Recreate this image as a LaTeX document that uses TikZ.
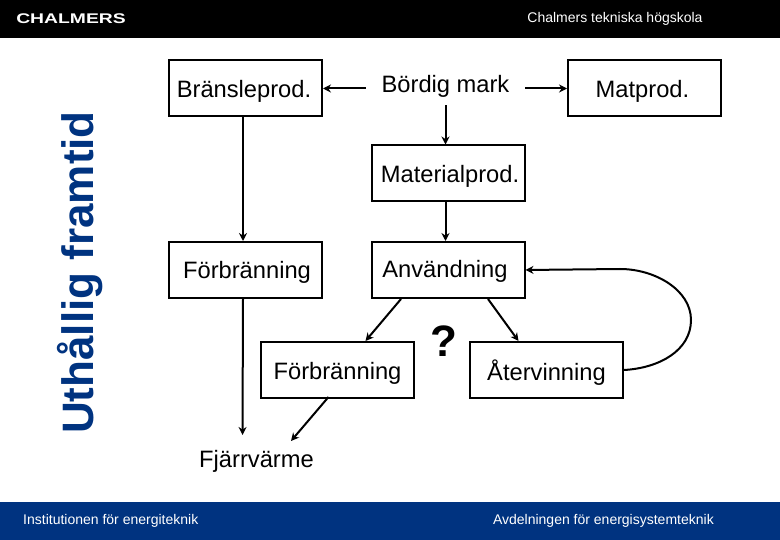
\documentclass[tikz,border=0pt]{standalone}
\usepackage{fontspec}
\setmainfont{Liberation Sans}
\usetikzlibrary{arrows.meta,calc}
\definecolor{navy}{RGB}{0,51,128}
\newcommand{\lbl}[3]{\raisebox{-#2}[\height][\depth]{\hspace*{#1}#3}}
\tikzset{
  boxed/.style={draw=black,line width=2pt,fill=white,minimum width=153pt,minimum height=56pt,inner sep=0pt,font=\fontsize{23.7}{28}\selectfont},
  plain/.style={inner sep=0pt,font=\fontsize{23.7}{28}\selectfont},
  conn/.style={line width=2pt,-{Stealth[length=8pt,width=8pt]}},
  band/.style={fill=#1,draw=none},
  smalltext/.style={text=white,inner sep=0pt,font=\fontsize{14}{16}\selectfont}
}
\begin{document}
\begin{tikzpicture}[x=1pt,y=-1pt]
\useasboundingbox (0,0) rectangle (780,540);
\fill[white] (0,0) rectangle (780,540);
\fill[band=black] (0,0) rectangle (780,38);
\fill[band=navy] (0,502) rectangle (780,540);
\node[text=white,inner sep=0pt,font=\bfseries\fontsize{14}{16}\selectfont,xscale=1.38] (logo) at (71,19) {CHALMERS};
\node[smalltext] (school) at (615,19) {Chalmers tekniska högskola};
\node[smalltext,anchor=west] (inst) at (23,521) {Institutionen för energiteknik};
\node[smalltext,anchor=east] (avd) at (714,521) {Avdelningen för energisystemteknik};
\node[text=navy,inner sep=0pt,rotate=90,font=\bfseries\fontsize{44}{50}\selectfont] (side) at (80,272.5) {Uthållig framtid};

\node[boxed] (bp) at (245.5,88.5) {\lbl{-3pt}{2.5pt}{Bränsleprod.}};
\node[boxed] (mp) at (644.5,88.5) {\lbl{-4pt}{3pt}{Matprod.}};
\node[boxed] (mat) at (448.5,173.5) {\lbl{3pt}{2.5pt}{Materialprod.}};
\node[boxed] (fb1) at (245.5,270) {\lbl{3pt}{2pt}{Förbränning}};
\node[boxed] (anv) at (448,270) {\lbl{-6pt}{1pt}{Användning}};
\node[boxed] (fb2) at (337.5,370) {\lbl{0pt}{3pt}{Förbränning}};
\node[boxed] (ater) at (546.5,370) {\lbl{0pt}{3pt}{Återvinning}};
\node[plain,minimum width=159pt,minimum height=40pt] (bm) at (445.5,85) {\lbl{0pt}{1pt}{Bördig mark}};
\node[plain] (fv) at (256.5,461) {Fjärrvärme};
\node[inner sep=0pt,font=\bfseries\fontsize{44}{48}\selectfont] (q) at (444,341) {?};

\coordinate (e1) at (242.5,435);
\coordinate (e2) at (291,441);

\draw[conn] (bm.west |- bp.east) -- (bp.east);
\draw[conn] (bm.east |- mp.west) -- (mp.west);
\draw[conn] (bm.south) -- (bm.south |- mat.north);
\draw[conn] ($(mat.south)+(-3,0)$) -- ($(anv.north)+(-2.5,0)$);
\draw[conn] ($(bp.south)+(-2.5,0)$) -- ($(fb1.north)+(-2.5,0)$);
\draw[conn] ($(fb1.south)+(-2.5,0)$) -- (e1);
\draw[conn] ($(anv.south)+(-47,0)$) -- ($(fb2.north)+(28,0)$);
\draw[conn] ($(anv.south)+(40,0)$) -- ($(ater.north)+(-28,0)$);
\draw[conn] ($(fb2.south)+(-9,-2)$) -- (e2);
\draw[conn] (ater.east) .. controls (660,368) and (691,350) .. (691,320) .. controls (691,290) and (655,269) .. (620,269) -- (anv.east);
\end{tikzpicture}
\end{document}
